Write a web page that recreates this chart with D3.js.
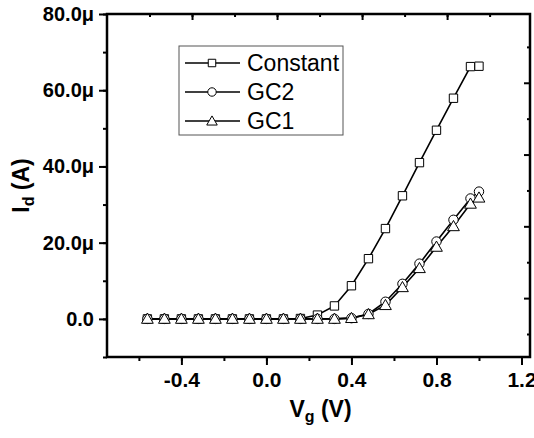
<!DOCTYPE html>
<html>
<head>
<meta charset="utf-8">
<script src="https://cdn.jsdelivr.net/npm/d3@7"></script>
<style>
  body { margin: 0; background: #fff; }
  svg text { font-family: "Liberation Sans", Arial, sans-serif; }
</style>
</head>
<body>
<div id="chart"></div>
<script>
// gate voltage sweep (V)
const vg = [-0.56, -0.48, -0.40, -0.32, -0.24, -0.16, -0.08, 0.0, 0.08, 0.16, 0.24, 0.32, 0.40, 0.48, 0.56, 0.64, 0.72, 0.80, 0.88, 0.96, 1.0]
// drain current (uA)
const idConstant = [0, 0, 0, 0, 0, 0, 0, 0, 0, 0.1, 1.0, 3.4, 8.7, 15.8, 23.7, 32.3, 41.0, 49.5, 57.9, 66.2, 66.3]
const idGC2 = [0, 0, 0, 0, 0, 0, 0, 0, 0, 0, 0, 0, 0.2, 1.3, 4.5, 9.2, 14.5, 20.3, 26.0, 31.6, 33.4]
const idGC1 = [0, 0, 0, 0, 0, 0, 0, 0, 0, 0, 0, 0, 0.2, 1.2, 3.6, 8.3, 13.3, 18.9, 24.3, 30.2, 31.8]

const seriesNames = ["Constant", "GC2", "GC1"]
const seriesSymbols = ["square", "circle", "triangle"]

const xTicks = [-0.4, 0.0, 0.4, 0.8, 1.2]
const yTicks = [0, 20, 40, 60, 80]

const width = 534
const height = 438
const margin = {left: 107, right: 4, top: 14, bottom: 81}

const svg = d3.select("#chart")
  .append("svg")
    .attr("width", width)
    .attr("height", height)

const x = d3.scaleLinear()
  .domain([-0.75, 1.24])
  .range([margin.left, width - margin.right])

const y = d3.scaleLinear()
  .domain([-10, 80])
  .range([height - margin.bottom, margin.top])

// Origin's opposite axes are drawn slightly off from the main ones
const xTop = d3.scaleLinear().domain([-0.8, 1.19]).range(x.range())
const yRight = d3.scaleLinear().domain([-10, 80]).range([334, 11])

const x0 = x.range()[0], x1 = x.range()[1]
const y0 = y.range()[0], y1 = y.range()[1]

// bottom axis, ticks outward
const bottomAxis = svg.append("g").attr("transform", `translate(0,${y0})`)
bottomAxis.call(d3.axisBottom(x).tickValues(d3.range(-0.6, 1.21, 0.2).map(d => +d.toFixed(1))).tickSize(4).tickFormat(""))
bottomAxis.append("g").call(d3.axisBottom(x).tickValues(xTicks).tickSize(8).tickFormat(d => d.toFixed(1)))
bottomAxis.selectAll("path").remove()
bottomAxis.selectAll("line").attr("stroke", "#000").attr("stroke-width", 2)
bottomAxis.selectAll("text")
  .attr("fill", "#000")
  .attr("font-size", 21)
  .attr("font-weight", "bold")
  .attr("dy", "0.92em")

// left axis, ticks outward
const leftAxis = svg.append("g").attr("transform", `translate(${x0},0)`)
leftAxis.call(d3.axisLeft(y).tickValues(d3.range(-10, 81, 10)).tickSize(4).tickFormat(""))
leftAxis.append("g").call(d3.axisLeft(y).tickValues(yTicks).tickSize(8)
  .tickFormat(d => d === 0 ? "0.0" : d.toFixed(1) + "μ"))
leftAxis.selectAll("path").remove()
leftAxis.selectAll("line").attr("stroke", "#000").attr("stroke-width", 2)
leftAxis.selectAll("text")
  .attr("fill", "#000")
  .attr("font-size", 20)
  .attr("font-weight", "bold")
  .attr("dx", "-0.1em")

// top axis, ticks inward
const topAxis = svg.append("g").attr("transform", `translate(0,${y1})`)
topAxis.call(d3.axisBottom(xTop).tickValues(d3.range(-0.6, 1.1, 0.2).map(d => +d.toFixed(1))).tickSize(3).tickFormat(""))
topAxis.append("g").call(d3.axisBottom(xTop).tickValues([-0.4, 0.0, 0.4, 0.8]).tickSize(6).tickFormat(""))
topAxis.selectAll("path").remove()
topAxis.selectAll("line").attr("stroke", "#000").attr("stroke-width", 2)

// right axis, ticks inward
const rightAxis = svg.append("g").attr("transform", `translate(${x1},0)`)
rightAxis.call(d3.axisLeft(yRight).tickValues([-10, 10, 30, 50, 70]).tickSize(3).tickFormat(""))
rightAxis.append("g").call(d3.axisLeft(yRight).tickValues([0, 20, 40, 60]).tickSize(6).tickFormat(""))
rightAxis.selectAll("path").remove()
rightAxis.selectAll("line").attr("stroke", "#000").attr("stroke-width", 2)

// frame
svg.append("rect")
  .attr("x", x0).attr("y", y1)
  .attr("width", x1 - x0).attr("height", y0 - y1)
  .attr("fill", "none")
  .attr("stroke", "#000")
  .attr("stroke-width", 2.5)

// axis titles
const xLabel = svg.append("text")
  .attr("x", (x0 + x1) / 2 + 2)
  .attr("y", 417)
  .attr("text-anchor", "middle")
  .attr("font-size", 23)
  .attr("font-weight", "bold")
xLabel.append("tspan").text("V")
xLabel.append("tspan").attr("font-size", 16).attr("dy", 5).text("g")
xLabel.append("tspan").attr("dy", -5).text(" (V)")

const yLabel = svg.append("text")
  .attr("transform", `translate(29,${(y0 + y1) / 2}) rotate(-90)`)
  .attr("text-anchor", "middle")
  .attr("font-size", 23)
  .attr("font-weight", "bold")
yLabel.append("tspan").text("I")
yLabel.append("tspan").attr("font-size", 16).attr("dy", 5).text("d")
yLabel.append("tspan").attr("dy", -5).text(" (A)")

// series
const series = seriesNames.map((name, i) => ({
  name: name,
  symbol: seriesSymbols[i],
  values: [idConstant, idGC2, idGC1][i].map((v, j) => ({x: vg[j], y: v}))
}))

const symbolType = {
  square: d3.symbolSquare,
  circle: d3.symbolCircle,
  triangle: d3.symbolTriangle
}
const symbolSize = {square: 70, circle: 70, triangle: 60}

const line = d3.line()
  .x(d => x(d.x))
  .y(d => y(d.y))

const plot = svg.append("g")

series.forEach(s => {
  plot.append("path")
    .datum(s.values)
    .attr("d", line)
    .attr("fill", "none")
    .attr("stroke", "#000")
    .attr("stroke-width", 1.6)
})

series.forEach(s => {
  plot.append("g")
    .selectAll("path")
    .data(s.values)
    .join("path")
      .attr("transform", d => `translate(${x(d.x)},${y(d.y) + (s.symbol === "triangle" ? 1 : 0)})`)
      .attr("d", d3.symbol().type(symbolType[s.symbol]).size(symbolSize[s.symbol]))
      .attr("fill", "#fff")
      .attr("stroke", "#000")
      .attr("stroke-width", 1)
})

// legend
const legend = svg.append("g").attr("transform", "translate(179,46)")
legend.append("rect")
  .attr("width", 164)
  .attr("height", 89)
  .attr("fill", "#fff")
  .attr("stroke", "#555")
  .attr("stroke-width", 1)

const item = legend.selectAll("g.item")
  .data(series)
  .join("g")
    .attr("class", "item")
    .attr("transform", (d, i) => `translate(0,${17 + i * 29})`)

item.append("line")
  .attr("x1", 6).attr("x2", 61)
  .attr("stroke", "#000")
  .attr("stroke-width", 1.6)

item.append("path")
  .attr("transform", d => `translate(33,${d.symbol === "triangle" ? 1 : 0})`)
  .attr("d", d => d3.symbol().type(symbolType[d.symbol]).size(symbolSize[d.symbol] * 0.8)())
  .attr("fill", "#fff")
  .attr("stroke", "#000")
  .attr("stroke-width", 1)

item.append("text")
  .attr("x", 68)
  .attr("dy", "0.36em")
  .attr("font-size", 23)
  .attr("fill", "#000")
  .text(d => d.name)
</script>
</body>
</html>
